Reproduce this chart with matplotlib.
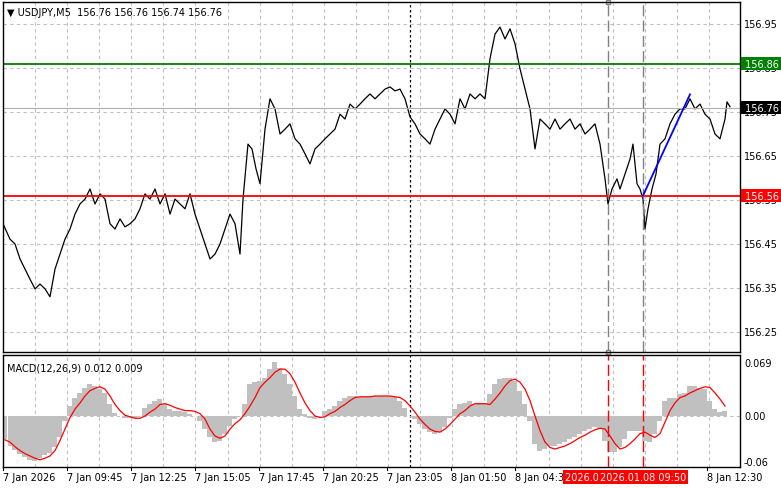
import matplotlib

matplotlib.use("Agg")
import matplotlib.pyplot as plt
import numpy as np

# bar positions (chart x units, 2 units per M5 bar) and close prices
price_x = [3, 10, 15, 20, 25, 30, 35, 40, 45, 50, 55, 60, 65, 70, 75, 80, 85, 90, 95, 100,
           105, 110, 115, 120, 125, 130, 135, 140, 145, 150, 155, 160, 165, 170, 175, 180,
           185, 190, 195, 200, 205, 210, 215, 220, 225, 230, 235, 240, 243, 248, 252, 256,
           260, 265, 270, 275, 280, 285, 290, 295, 300, 305, 310, 315, 320, 325, 330, 335,
           340, 345, 350, 355, 360, 365, 370, 375, 380, 385, 390, 395, 400, 405, 410, 415,
           420, 425, 430, 435, 440, 445, 450, 455, 460, 465, 470, 475, 480, 485, 490, 495,
           500, 505, 510, 515, 520, 525, 530, 535, 540, 545, 550, 555, 560, 565, 570, 575,
           580, 585, 590, 595, 600, 605, 608, 612, 617, 620, 625, 630, 633, 637, 640, 643,
           645, 648, 652, 656, 660, 665, 670, 675, 680, 685, 690, 695, 700, 705, 710, 715,
           720, 725, 727, 730]
price = [156.496, 156.461, 156.450, 156.416, 156.393, 156.370, 156.348, 156.359, 156.348,
         156.330, 156.393, 156.427, 156.461, 156.484, 156.518, 156.541, 156.552, 156.575,
         156.541, 156.564, 156.552, 156.496, 156.484, 156.507, 156.489, 156.496, 156.507,
         156.530, 156.564, 156.552, 156.575, 156.541, 156.564, 156.518, 156.552, 156.541,
         156.530, 156.564, 156.518, 156.484, 156.450, 156.416, 156.427, 156.450, 156.484,
         156.518, 156.496, 156.427, 156.552, 156.677, 156.666, 156.621, 156.587, 156.711,
         156.780, 156.757, 156.700, 156.711, 156.723, 156.689, 156.677, 156.655, 156.632,
         156.666, 156.677, 156.689, 156.700, 156.711, 156.745, 156.734, 156.768, 156.757,
         156.768, 156.780, 156.791, 156.780, 156.791, 156.802, 156.807, 156.798, 156.802,
         156.780, 156.739, 156.723, 156.700, 156.689, 156.677, 156.711, 156.734, 156.757,
         156.745, 156.723, 156.780, 156.757, 156.791, 156.780, 156.791, 156.780, 156.871,
         156.927, 156.943, 156.916, 156.939, 156.905, 156.848, 156.802, 156.757, 156.666,
         156.734, 156.723, 156.711, 156.734, 156.711, 156.723, 156.734, 156.711, 156.723,
         156.700, 156.711, 156.723, 156.677, 156.598, 156.541, 156.575, 156.598, 156.575,
         156.609, 156.643, 156.677, 156.587, 156.575, 156.552, 156.484, 156.530, 156.575,
         156.609, 156.677, 156.689, 156.723, 156.745, 156.757, 156.757, 156.780, 156.757,
         156.768, 156.745, 156.734, 156.700, 156.689, 156.734, 156.773, 156.762]

macd_x = list(range(5, 730, 5))
macd_hist = [-0.030, -0.039, -0.044, -0.049, -0.053, -0.057, -0.058, -0.055, -0.051, -0.048,
             -0.040, -0.027, -0.006, 0.013, 0.024, 0.030, 0.037, 0.042, 0.039, 0.035,
             0.030, 0.015, 0.004, 0.000, -0.002, -0.002, -0.002, 0.000, 0.011, 0.015,
             0.020, 0.022, 0.015, 0.009, 0.007, 0.007, 0.005, 0.003, 0.000, -0.006,
             -0.017, -0.027, -0.034, -0.032, -0.023, -0.013, -0.004, 0.000, 0.015, 0.042,
             0.044, 0.046, 0.050, 0.061, 0.070, 0.063, 0.055, 0.042, 0.026, 0.009,
             0.003, -0.002, -0.004, 0.000, 0.007, 0.009, 0.013, 0.020, 0.024, 0.026,
             0.026, 0.025, 0.025, 0.025, 0.026, 0.026, 0.026, 0.026, 0.025, 0.020,
             0.011, 0.000, -0.004, -0.010, -0.017, -0.021, -0.023, -0.021, -0.014, -0.002,
             0.009, 0.015, 0.017, 0.020, 0.015, 0.015, 0.017, 0.028, 0.042, 0.048,
             0.050, 0.050, 0.046, 0.033, 0.015, -0.006, -0.036, -0.045, -0.043, -0.039,
             -0.039, -0.036, -0.034, -0.030, -0.027, -0.023, -0.019, -0.017, -0.014, -0.017,
             -0.032, -0.047, -0.047, -0.041, -0.030, -0.019, -0.019, -0.019, -0.032, -0.034,
             -0.023, -0.006, 0.020, 0.024, 0.024, 0.028, 0.030, 0.039, 0.039, 0.037,
             0.035, 0.020, 0.009, 0.005, 0.007]
macd_signal = [-0.031, -0.034, -0.040, -0.045, -0.049, -0.052, -0.055, -0.057, -0.055, -0.052,
               -0.045, -0.032, -0.017, -0.002, 0.009, 0.017, 0.026, 0.033, 0.036, 0.038,
               0.035, 0.026, 0.015, 0.007, 0.001, -0.001, -0.003, -0.003, 0.000, 0.005,
               0.009, 0.015, 0.016, 0.014, 0.011, 0.009, 0.007, 0.007, 0.006, 0.003,
               -0.004, -0.017, -0.026, -0.029, -0.026, -0.017, -0.010, -0.005, 0.003, 0.013,
               0.024, 0.037, 0.044, 0.050, 0.057, 0.061, 0.061, 0.055, 0.044, 0.030,
               0.017, 0.007, 0.000, -0.002, -0.001, 0.003, 0.006, 0.011, 0.015, 0.020,
               0.024, 0.025, 0.025, 0.025, 0.026, 0.026, 0.026, 0.026, 0.025, 0.024,
               0.020, 0.013, 0.005, -0.004, -0.011, -0.017, -0.020, -0.021, -0.017, -0.011,
               -0.004, 0.003, 0.007, 0.013, 0.016, 0.016, 0.016, 0.015, 0.022, 0.030,
               0.039, 0.046, 0.048, 0.044, 0.035, 0.020, 0.000, -0.019, -0.034, -0.041,
               -0.043, -0.041, -0.039, -0.036, -0.032, -0.028, -0.025, -0.021, -0.018, -0.016,
               -0.017, -0.026, -0.036, -0.043, -0.041, -0.036, -0.030, -0.023, -0.021, -0.025,
               -0.028, -0.023, -0.008, 0.007, 0.017, 0.024, 0.026, 0.030, 0.033, 0.036,
               0.038, 0.037, 0.030, 0.022, 0.013]

tick_x = [3, 67, 131, 195, 259, 323, 387, 451, 515, 707]
tick_labels = ["7 Jan 2026", "7 Jan 09:45", "7 Jan 12:25", "7 Jan 15:05", "7 Jan 17:45",
               "7 Jan 20:25", "7 Jan 23:05", "8 Jan 01:50", "8 Jan 04:30", "8 Jan 12:30"]
grid_x = np.arange(35, 740, 32.1)
price_ticks = [156.95, 156.85, 156.75, 156.65, 156.55, 156.45, 156.35, 156.25]
level_green = 156.86
level_red = 156.56
last_price = 156.76
session_x = 410
mark_x = [608, 643]
trend_x = [643, 690]
trend_y = [156.56, 156.79]

W, H = 781, 489
fig = plt.figure(figsize=(W / 100, H / 100), dpi=100)
plt.rcParams["font.family"] = ["DejaVu Sans"]


def rect(top, bottom, left=3, right=740):
    return [left / W, 1 - bottom / H, (right - left) / W, (bottom - top) / H]


ax = fig.add_axes(rect(3, 353))
mx = fig.add_axes(rect(356, 468))
for a in (ax, mx):
    a.set_xlim(3, 740)
    a.set_xticks([])
    a.set_yticks([])
    for s in a.spines.values():
        s.set_color("black")
        s.set_linewidth(1)
    for gx in grid_x:
        a.axvline(gx, color="#c0c0c0", ls=(0, (3, 3)), lw=0.8, zorder=0)
    a.axvline(session_x, color="black", ls=(0, (2, 2)), lw=0.9)

ax.set_ylim(156.2045, 157.0)
for p in price_ticks:
    ax.axhline(p, color="#c0c0c0", ls=(0, (3, 3)), lw=0.8, zorder=0)
ax.plot(price_x, price, color="black", lw=0.9)
ax.axhline(level_green, color="green", lw=1.3)
ax.axhline(level_red, color="red", lw=1.3)
ax.axhline(last_price, color="#b0b0b0", lw=0.8)
for m in mark_x:
    ax.axvline(m, color="#808080", ls=(0, (8, 3)), lw=1)
ax.plot([mark_x[0]], [157.0], marker="s", ms=3, mfc="white", mec="#808080", clip_on=False)
ax.plot([mark_x[0]], [156.2045], marker="s", ms=3, mfc="white", mec="#808080", clip_on=False)
ax.plot(trend_x, trend_y, color="blue", lw=1.3)
ax.text(8 / 781 * 0 + 0.005, 0.985, "\u25bc USDJPY,M5  156.76 156.76 156.74 156.76",
        transform=ax.transAxes, fontsize=7, va="top")

mx.set_ylim(-0.0664, 0.0794)
mx.bar(macd_x, macd_hist, width=5, color="#c0c0c0", linewidth=0)
mx.axhline(0, color="#c0c0c0", ls=(0, (3, 3)), lw=0.8)
mx.plot(macd_x, macd_signal, color="red", lw=0.9)
for m in mark_x:
    mx.axvline(m, color="red", ls=(0, (8, 3)), lw=1)
mx.text(0.005, 0.93, "MACD(12,26,9) 0.012 0.009", transform=mx.transAxes, fontsize=7, va="top")

# right price scale
for p in price_ticks:
    ax.text(744, p, f"{p:.2f}", fontsize=7, va="center", clip_on=False,
            transform=ax.transData)
for p, bg in [(level_green, "green"), (level_red, "red"), (last_price, "black")]:
    ax.text(742, p, f" {p:.2f} ", fontsize=7, va="center", color="white", clip_on=False,
            bbox=dict(boxstyle="square,pad=0.15", fc=bg, ec="none"))
for v, lab in [(0.069, "0.069"), (0.0, "0.00"), (-0.06, "-0.06")]:
    mx.text(744, v, lab, fontsize=7, va="center", clip_on=False)

# bottom time scale
for tx, lab in zip(tick_x, tick_labels):
    mx.plot([tx, tx], [-0.0664, -0.0664 - 0.004], color="black", lw=0.8, clip_on=False)
    mx.text(tx, -0.0664 - 0.006, lab, fontsize=7, va="top", ha="left", clip_on=False)
for m, lab in [(mark_x[0], "2026.01.08 09:15"), (mark_x[1], "2026.01.08 09:50")]:
    mx.text(m, -0.0664 - 0.006, lab, fontsize=7, va="top", ha="center", color="white",
            clip_on=False, bbox=dict(boxstyle="square,pad=0.2", fc="red", ec="none"))

fig.savefig("out.png", dpi=100)
